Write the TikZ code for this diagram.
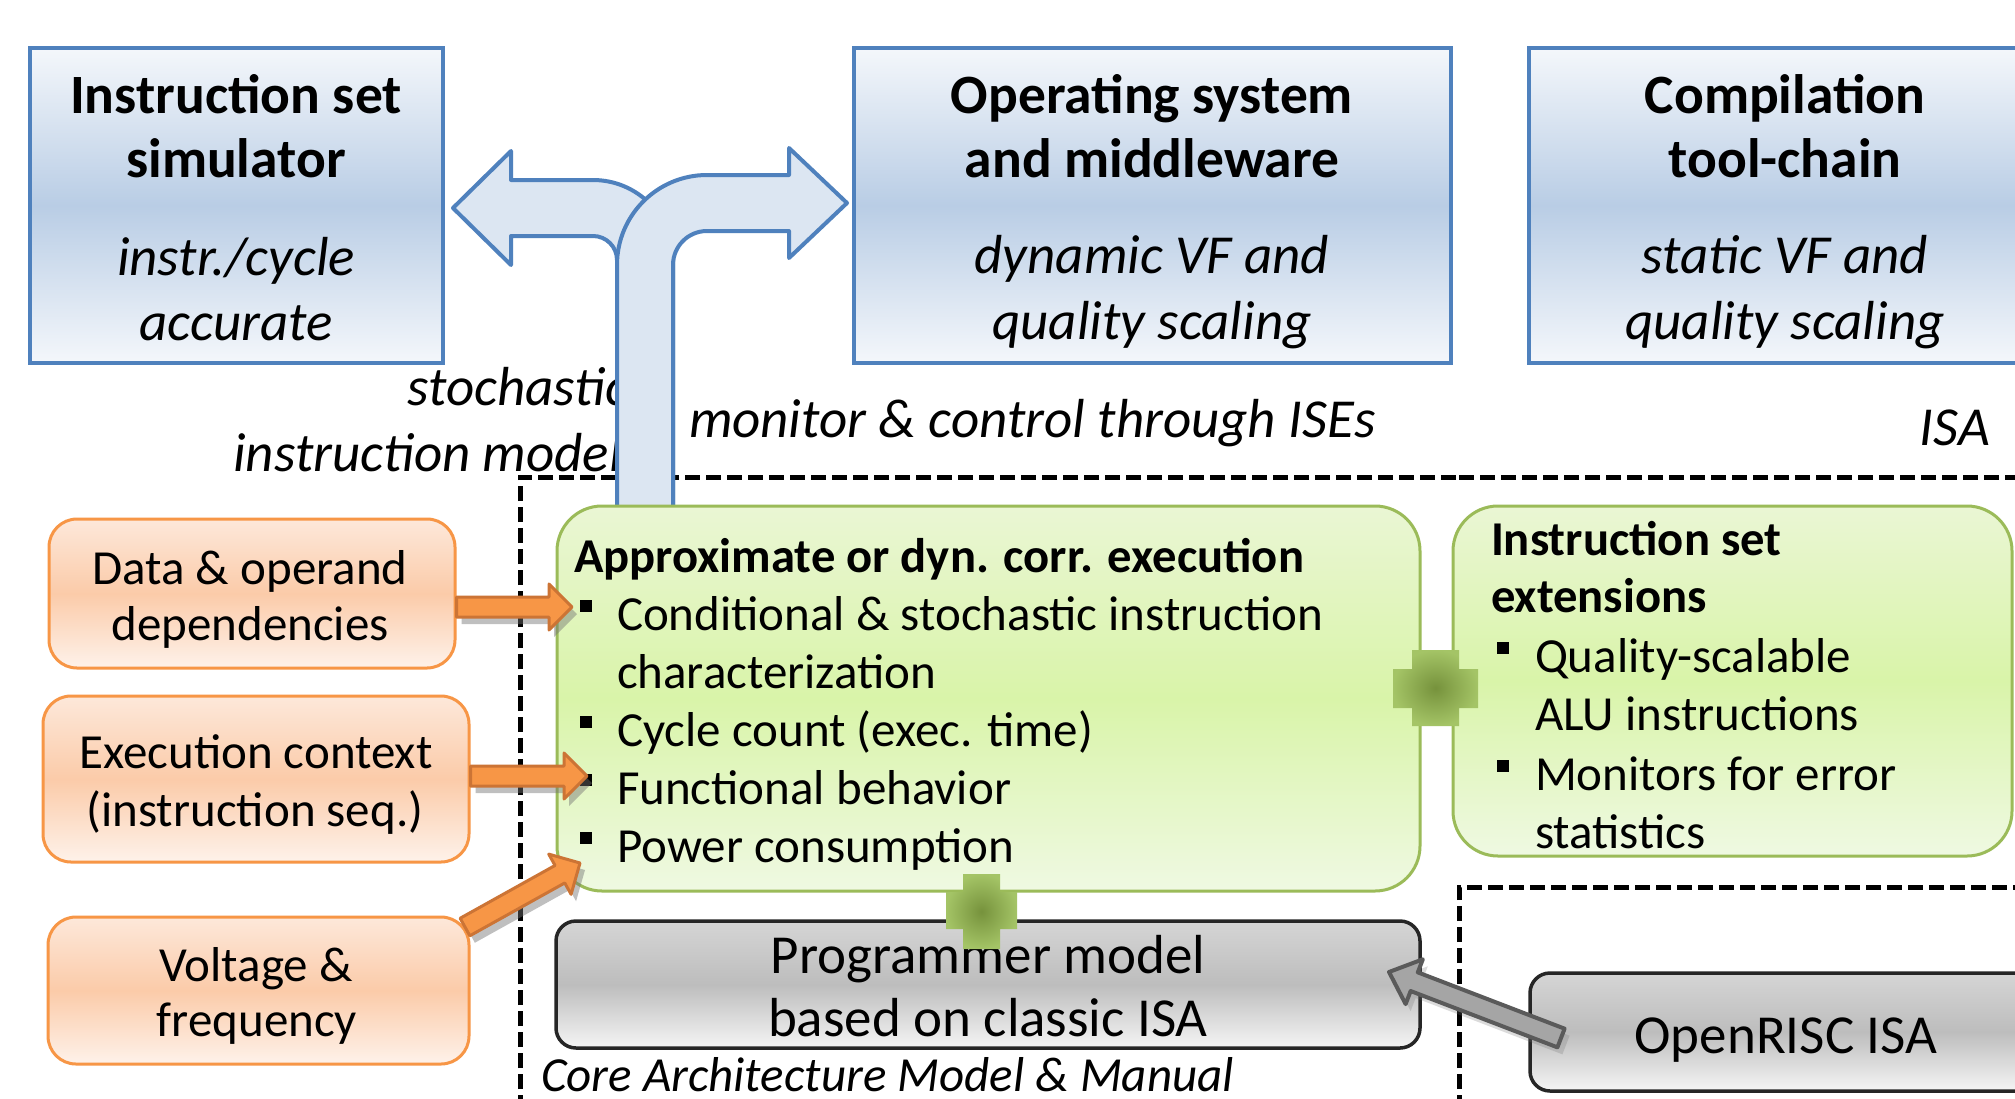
\documentclass[tikz,border=0pt]{standalone}
\usepackage{fontspec}
\setmainfont{Carlito}
\usetikzlibrary{calc}

\definecolor{bluefill}{HTML}{DCE6F2}
\definecolor{blueline}{HTML}{4F81BD}
\definecolor{bluemid}{HTML}{B9CDE5}
\definecolor{bluelight}{HTML}{F4F7FB}
\definecolor{greenline}{HTML}{9BBB59}
\definecolor{greentop}{HTML}{EAF6D4}
\definecolor{greenmid}{HTML}{D9F4A9}
\definecolor{greenbot}{HTML}{EFF9E2}
\definecolor{plusdark}{HTML}{76923C}
\definecolor{pluslight}{HTML}{A4C466}
\definecolor{orangeline}{HTML}{F79646}
\definecolor{orangetop}{HTML}{FDE8DA}
\definecolor{orangemid}{HTML}{FBCBA9}
\definecolor{orangebot}{HTML}{FEF2EA}
\definecolor{orangearrow}{HTML}{F79646}
\definecolor{orangeedge}{HTML}{CC7435}
\definecolor{greytop}{HTML}{D5D5D5}
\definecolor{greymid}{HTML}{BDBDBD}
\definecolor{greybot}{HTML}{F5F5F5}
\definecolor{greyline}{HTML}{262626}
\definecolor{greyarrow}{HTML}{A5A5A5}
\definecolor{greyedge}{HTML}{5A5A5A}

% block arrow from #2 to #3: shaft half-width #4, head half-width #5, head length #6 (pt)
\newcommand\blockarrow[6]{%
  \path[#1] let \p1=(#2), \p2=(#3),
      \n1={atan2(\y2-\y1,\x2-\x1)},
      \n2={veclen(\x2-\x1,\y2-\y1)-#6} in
    ($(\p1)+(\n1+90:#4pt)$)
    -- ($(\p1)+(\n1:\n2)+(\n1+90:#4pt)$)
    -- ($(\p1)+(\n1:\n2)+(\n1+90:#5pt)$)
    -- (\p2)
    -- ($(\p1)+(\n1:\n2)+(\n1-90:#5pt)$)
    -- ($(\p1)+(\n1:\n2)+(\n1-90:#4pt)$)
    -- ($(\p1)+(\n1-90:#4pt)$) -- cycle;}

\begin{document}
\begin{tikzpicture}[x=1pt,y=-1pt,
  txt/.style={inner sep=0pt,outer sep=0pt,text=black},
  bigb/.style={txt,font=\fontsize{55.5}{60}\selectfont\bfseries},
  bigi/.style={txt,font=\fontsize{55}{60}\selectfont\itshape},
  bigr/.style={txt,font=\fontsize{55}{60}\selectfont},
  body/.style={txt,font=\fontsize{49}{56}\selectfont},
  bodyb/.style={txt,font=\fontsize{48.6}{56}\selectfont\bfseries},
  bodyi/.style={txt,font=\fontsize{49}{56}\selectfont\itshape},
  topbox/.style={rectangle,draw=blueline,line width=4pt,top color=bluelight,bottom color=bluelight,middle color=bluemid,inner sep=0pt},
  greenbox/.style={rectangle,rounded corners=45pt,draw=greenline,line width=3pt,top color=greentop,bottom color=greenbot,middle color=greenmid,inner sep=0pt},
  orangebox/.style={rectangle,rounded corners=28pt,draw=orangeline,line width=3pt,top color=orangetop,bottom color=orangebot,middle color=orangemid,inner sep=0pt},
  greybox/.style={rectangle,rounded corners=20pt,draw=greyline,line width=3.5pt,top color=greytop,bottom color=greybot,middle color=greymid,inner sep=0pt},
  bentarrow/.style={fill=bluefill,draw=blueline,line width=4pt,line join=round},
  dashline/.style={draw=black,line width=5pt,dash pattern=on 15pt off 6pt},
  orangeblock/.style={fill=orangearrow,draw=orangeedge,line width=3pt,line join=round},
  greyblock/.style={fill=greyarrow,draw=greyedge,line width=4pt,line join=round},
  arrowshadow/.style={fill=black!55,opacity=0.45,transform canvas={xshift=5pt,yshift=-7pt}},
  plusshape/.style={inner color=plusdark,outer color=pluslight},
  bulletsq/.style={fill=black}
]
\useasboundingbox (0,0) rectangle (2015,1098);
\clip (0,0) rectangle (2015,1098);
\fill[white] (0,0) rectangle (2015,1098);

% software layers on top
\node[topbox,minimum width=413pt,minimum height=315pt] (iss) at (236.5,205.5) {};
\node[topbox,minimum width=597pt,minimum height=315pt] (osm) at (1152.5,205.5) {};
\node[topbox,minimum width=511pt,minimum height=315pt] (tc) at (1784.5,205.5) {};

\node[bigb,anchor=base] (iss-1) at (236,113) {Instruction set};
\node[bigb,anchor=base] (iss-2) at (236,177) {simulator};
\node[bigi,anchor=base] (iss-3) at (236,275) {instr./cycle};
\node[bigi,anchor=base] (iss-4) at (236,340) {accurate};

\node[bigb,anchor=base] (osm-1) at (1152,113) {Operating system};
\node[bigb,anchor=base] (osm-2) at (1152,177) {and middleware};
\node[bigi,anchor=base] (osm-3) at (1152,273) {dynamic VF and};
\node[bigi,anchor=base] (osm-4) at (1152,339) {quality scaling};

\node[bigb,anchor=base] (tc-1) at (1785,113) {Compilation};
\node[bigb,anchor=base] (tc-2) at (1785,177) {tool-chain};
\node[bigi,anchor=base] (tc-3) at (1785,273) {static VF and};
\node[bigi,anchor=base] (tc-4) at (1785,339) {quality scaling};

% interface labels
\node[bigi,anchor=base east] (lbl-st) at (628,405) {stochastic};
\node[bigi,anchor=base east] (lbl-im) at (622,471) {instruction model};
\node[bigi,anchor=base west] (lbl-mc) at (689,437) {monitor \& control through ISEs};
\node[bigi,anchor=base east] (lbl-isa) at (1990,445) {ISA};

% dashed frames
\draw[dashline] (520,1110) -- (520,477) -- (1459,477);
\draw[dashline] (1459,477) -- (2030,477);
\draw[dashline] (1459,1110) -- (1459,887) -- (2030,887);

% bent double arrow rising from the execution model
\path[bentarrow] (617,520) -- (617,260) arc[start angle=0,end angle=-90,radius=24]
  -- (511,236) -- (511,265) -- (453,208) -- (511,151) -- (511,180) -- (593,180)
  arc[start angle=-90,end angle=0,radius=80] -- (673,520) -- cycle;
\path[bentarrow] (617,520) -- (617,265) arc[start angle=180,end angle=270,radius=90]
  -- (789,175) -- (789,148) -- (847,203) -- (789,258) -- (789,231) -- (707,231)
  arc[start angle=270,end angle=180,radius=34] -- (673,520) -- cycle;

% execution model and instruction set extensions
\node[greenbox,minimum width=863pt,minimum height=385pt] (exec) at (988.5,698.5) {};
\node[greenbox,minimum width=559pt,minimum height=350pt] (ise) at (1732.5,681) {};

\node[bodyb,anchor=base west] (exec-t) at (574,572) {Approximate or dyn. corr. execution};
\node[body,anchor=base west] (exec-1) at (617,630) {Conditional \& stochastic instruction};
\node[body,anchor=base west] (exec-1b) at (617,688) {characterization};
\node[body,anchor=base west] (exec-2) at (617,746) {Cycle count (exec. time)};
\node[body,anchor=base west] (exec-3) at (617,804) {Functional behavior};
\node[body,anchor=base west] (exec-4) at (617,862) {Power consumption};
\foreach \b in {630,746,804,862}
  \fill[bulletsq] (580,\b-30) rectangle (592,\b-18);

\node[bodyb,anchor=base west] (ise-t1) at (1491,555) {Instruction set};
\node[bodyb,anchor=base west] (ise-t2) at (1491,612) {extensions};
\node[body,anchor=base west] (ise-1) at (1535,672) {Quality-scalable};
\node[body,anchor=base west] (ise-1b) at (1535,730) {ALU instructions};
\node[body,anchor=base west] (ise-2) at (1535,790) {Monitors for error};
\node[body,anchor=base west] (ise-2b) at (1535,848) {statistics};
\foreach \b in {672,790}
  \fill[bulletsq] (1497,\b-30) rectangle (1509,\b-18);

% influencing factors
\node[orangebox,minimum width=406pt,minimum height=149pt] (dep) at (252,593.5) {};
\node[orangebox,minimum width=426pt,minimum height=166pt] (ctx) at (256,779) {};
\node[orangebox,minimum width=421pt,minimum height=147pt] (vf) at (258.5,990.5) {};

\node[body,anchor=base] (dep-1) at (250,584) {Data \& operand};
\node[body,anchor=base] (dep-2) at (250,640) {dependencies};
\node[body,anchor=base] (ctx-1) at (256,768) {Execution context};
\node[body,anchor=base] (ctx-2) at (255,826) {(instruction seq.)};
\node[body,anchor=base] (vf-1) at (256,981) {Voltage \&};
\node[body,anchor=base] (vf-2) at (257,1036) {frequency};

% programmer model and base ISA
\node[greybox,minimum width=864pt,minimum height=127pt] (prog) at (988,984.5) {};
\node[greybox,minimum width=510pt,minimum height=118pt] (orisc) at (1785,1032) {};

\node[bigr,anchor=base] (prog-1) at (988,973) {Programmer model};
\node[bigr,anchor=base] (prog-2) at (988,1036) {based on classic ISA};
\node[bigr,anchor=base] (orisc-1) at (1786,1053) {OpenRISC ISA};
\node[bodyi,anchor=base west] (core) at (541,1091) {Core Architecture Model \& Manual};

% arrow end points
\coordinate (tipA) at (572,607);
\coordinate (tipB) at (587,776);
\coordinate (tipC) at (580,863);
\coordinate (tailC) at (465,927);
\coordinate (tailG) at (1561,1038);
\coordinate (tipG) at (1389,972);

% orange input arrows with shadows
\blockarrow{arrowshadow}{dep.east |- tipA}{tipA}{10}{23}{23}
\blockarrow{orangeblock}{dep.east |- tipA}{tipA}{10}{23}{23}
\blockarrow{arrowshadow}{ctx.east |- tipB}{tipB}{10}{23}{23}
\blockarrow{orangeblock}{ctx.east |- tipB}{tipB}{10}{23}{23}
\blockarrow{arrowshadow}{tailC}{tipC}{10}{23}{23}
\blockarrow{orangeblock}{tailC}{tipC}{10}{23}{23}

% grey arrow from the OpenRISC ISA
\blockarrow{arrowshadow,opacity=0.25}{tailG}{tipG}{10}{24}{27}
\blockarrow{greyblock}{tailG}{tipG}{10}{24}{27}

% plus joints
\shade[plusshape] (1412,650) -- (1459,650) -- (1459,669) -- (1478,669) -- (1478,708) -- (1459,708)
  -- (1459,726) -- (1412,726) -- (1412,708) -- (1393,708) -- (1393,669) -- (1412,669) -- cycle;
\shade[plusshape] (963,874) -- (1000,874) -- (1000,892) -- (1017,892) -- (1017,929) -- (1000,929)
  -- (1000,949) -- (963,949) -- (963,929) -- (946,929) -- (946,892) -- (963,892) -- cycle;
\end{tikzpicture}
\end{document}
